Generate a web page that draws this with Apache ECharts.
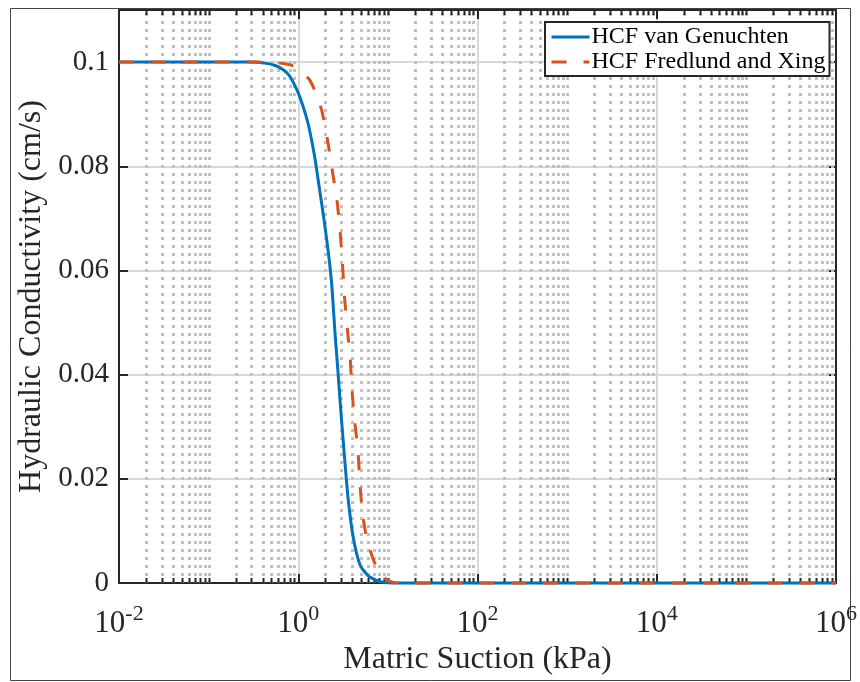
<!DOCTYPE html>
<html>
<head>
<meta charset="utf-8">
<script src="https://cdn.jsdelivr.net/npm/echarts@6/dist/echarts.min.js"></script>
<style>html,body{margin:0;padding:0;background:#fff;}#c{width:860px;height:682px;}</style>
</head>
<body>
<div id="c"></div>
<script>
// ---- data ----
const seriesNames = ['HCF van Genuchten', 'HCF Fredlund and Xing'];
// matric suction (kPa), hydraulic conductivity (cm/s)
const vgSuction = [0.01, 0.1, 0.286, 0.421, 0.543, 0.673, 0.78, 0.869, 1.031, 1.275, 1.515, 1.721, 1.955, 2.183, 2.382, 2.572, 2.749, 2.924, 3.126, 3.35, 3.616, 4.037, 4.474, 5.012, 6.197, 8.36, 11.75, 100, 1e6];
const vgK       = [0.1, 0.1, 0.1, 0.0998, 0.0994, 0.0986, 0.0976, 0.0963, 0.0935, 0.0885, 0.0821, 0.0758, 0.0693, 0.063, 0.0566, 0.0479, 0.0415, 0.0351, 0.0287, 0.0223, 0.0159, 0.0095, 0.0057, 0.0031, 0.0012, 0.00025, 0, 0, 0];
const fxSuction = [0.01, 0.1, 0.37, 0.618, 0.861, 1.349, 1.811, 2.128, 2.419, 2.729, 2.945, 3.124, 3.288, 3.524, 3.806, 3.979, 4.249, 4.632, 4.883, 5.216, 5.993, 8.0, 10.9, 13.4, 1e6];
const fxK       = [0.1, 0.1, 0.1, 0.0998, 0.0993, 0.0965, 0.091, 0.0849, 0.0788, 0.0729, 0.067, 0.0609, 0.0548, 0.0489, 0.0429, 0.037, 0.0313, 0.0254, 0.0191, 0.0132, 0.0076, 0.0019, 0.0002, 0, 0];
// axis ticks
const xTickExps = ['-2', '0', '2', '4', '6'];
const yTickValues = [0, 0.02, 0.04, 0.06, 0.08, 0.1];
const yTickLabels = ['0', '0.02', '0.04', '0.06', '0.08', '0.1'];
const minorDecades = [-2, -1, 0, 1, 2, 3, 4, 5];
const minorMultipliers = [2, 3, 4, 5, 6, 7, 8, 9];
const oddDecades = [-1, 1, 3, 5];

const minorXs = [];
minorDecades.forEach(d => minorMultipliers.forEach(m => minorXs.push(m * Math.pow(10, d))));
oddDecades.forEach(d => minorXs.push(Math.pow(10, d)));

const FONT = 'Liberation Serif';
const AX = '#262626';
const chart = echarts.init(document.getElementById('c'), null, {renderer: 'canvas'});

const yFmt = v => {
  for (let i = 0; i < yTickValues.length; i++) if (Math.abs(v - yTickValues[i]) < 1e-9) return yTickLabels[i];
  return '';
};
const xFmt = v => {
  const e = String(Math.round(Math.log10(v)));
  return xTickExps.indexOf(e) >= 0 ? '{b|10}{s|' + e + '}' : '';
};

const tickStyle = {inside: true, length: 9, lineStyle: {color: AX, width: 2}};
const axLine = {show: true, onZero: false, lineStyle: {color: AX, width: 2}};

chart.setOption({
  animation: false,
  backgroundColor: '#fff',
  grid: {left: 119, right: 22, top: 10, bottom: 99, containLabel: false},
  graphic: [{type: 'rect', shape: {x: 10.5, y: 8.5, width: 840, height: 672}, style: {fill: 'none', stroke: '#444', lineWidth: 1}, silent: true, z: 0}],
  legend: {
    data: seriesNames, orient: 'vertical', left: 545, top: 22,
    padding: [3, 4, 2, 5], itemGap: 1, itemWidth: 38, itemHeight: 12,
    backgroundColor: '#fff', borderColor: AX, borderWidth: 2,
    itemStyle: {opacity: 0},
    lineStyle: {width: 3},
    textStyle: {fontFamily: FONT, fontSize: 24, color: '#000', padding: [0, 0, 0, -3]}
  },
  xAxis: [{
    type: 'log', logBase: 10, min: 0.01, max: 1e6, interval: 2,
    position: 'bottom',
    name: 'Matric Suction (kPa)', nameLocation: 'middle', nameGap: 61,
    nameTextStyle: {fontFamily: FONT, fontSize: 32, color: '#262626'},
    axisLine: axLine, axisTick: tickStyle,
    axisLabel: {formatter: xFmt, margin: 20, color: '#262626',
      rich: {b: {fontFamily: FONT, fontSize: 31, color: '#262626', verticalAlign: 'bottom', lineHeight: 36},
             s: {fontFamily: FONT, fontSize: 22, color: '#262626', verticalAlign: 'top', lineHeight: 36}}},
    splitLine: {show: true, lineStyle: {color: '#d8d8d8', width: 2}},
    minorTick: {show: false}, minorSplitLine: {show: false}
  }, {
    type: 'log', logBase: 10, min: 0.01, max: 1e6, interval: 2, position: 'top',
    axisLine: axLine, axisTick: tickStyle, axisLabel: {show: false}, splitLine: {show: false}
  }],
  yAxis: [{
    type: 'value', min: 0, max: 0.11, interval: 0.02, position: 'left',
    name: 'Hydraulic Conductivity (cm/s)', nameLocation: 'middle', nameGap: 70,
    nameTextStyle: {fontFamily: FONT, fontSize: 32, color: '#262626'},
    axisLine: axLine, axisTick: tickStyle,
    axisLabel: {formatter: yFmt, fontFamily: FONT, fontSize: 29, color: '#262626', margin: 10, showMaxLabel: false},
    splitLine: {show: true, lineStyle: {color: '#d8d8d8', width: 2}}
  }, {
    type: 'value', min: 0, max: 0.11, interval: 0.02, position: 'right',
    axisLine: axLine, axisTick: tickStyle, axisLabel: {show: false}, splitLine: {show: false}
  }],
  series: [{
    type: 'custom', name: 'minor', xAxisIndex: 0, yAxisIndex: 0, z: 1, silent: true, clip: false,
    encode: {x: 0, y: 1},
    data: minorXs.map(v => [v, 0]),
    renderItem: (params, api) => {
      const v = api.value(0);
      const b = api.coord([v, 0]);
      const t = api.coord([v, 0.11]);
      const x = Math.round(b[0]) + 0.5;
      return {type: 'group', children: [
        {type: 'line', shape: {x1: x, y1: t[1] + 3, x2: x, y2: b[1]}, style: {stroke: '#c0c0c0', lineWidth: 3, lineDash: [3, 5]}},
        {type: 'line', shape: {x1: x, y1: b[1], x2: x, y2: b[1] - 5}, style: {stroke: AX, lineWidth: 2}},
        {type: 'line', shape: {x1: x, y1: t[1], x2: x, y2: t[1] + 5}, style: {stroke: AX, lineWidth: 2}}
      ]};
    }
  }, {
    type: 'line', name: seriesNames[0], z: 3, showSymbol: false, symbol: 'none', clip: false,
    smooth: 0.2,
    data: vgSuction.map((x, i) => [x, vgK[i]]),
    lineStyle: {color: '#0072BD', width: 3}, itemStyle: {color: '#0072BD'}
  }, {
    type: 'line', name: seriesNames[1], z: 4, showSymbol: false, symbol: 'none', clip: false,
    smooth: 0.2,
    data: fxSuction.map((x, i) => [x, fxK[i]]),
    lineStyle: {color: '#D95319', width: 3, type: [15, 17]}, itemStyle: {color: '#D95319'}
  }]
});
</script>
</body>
</html>
